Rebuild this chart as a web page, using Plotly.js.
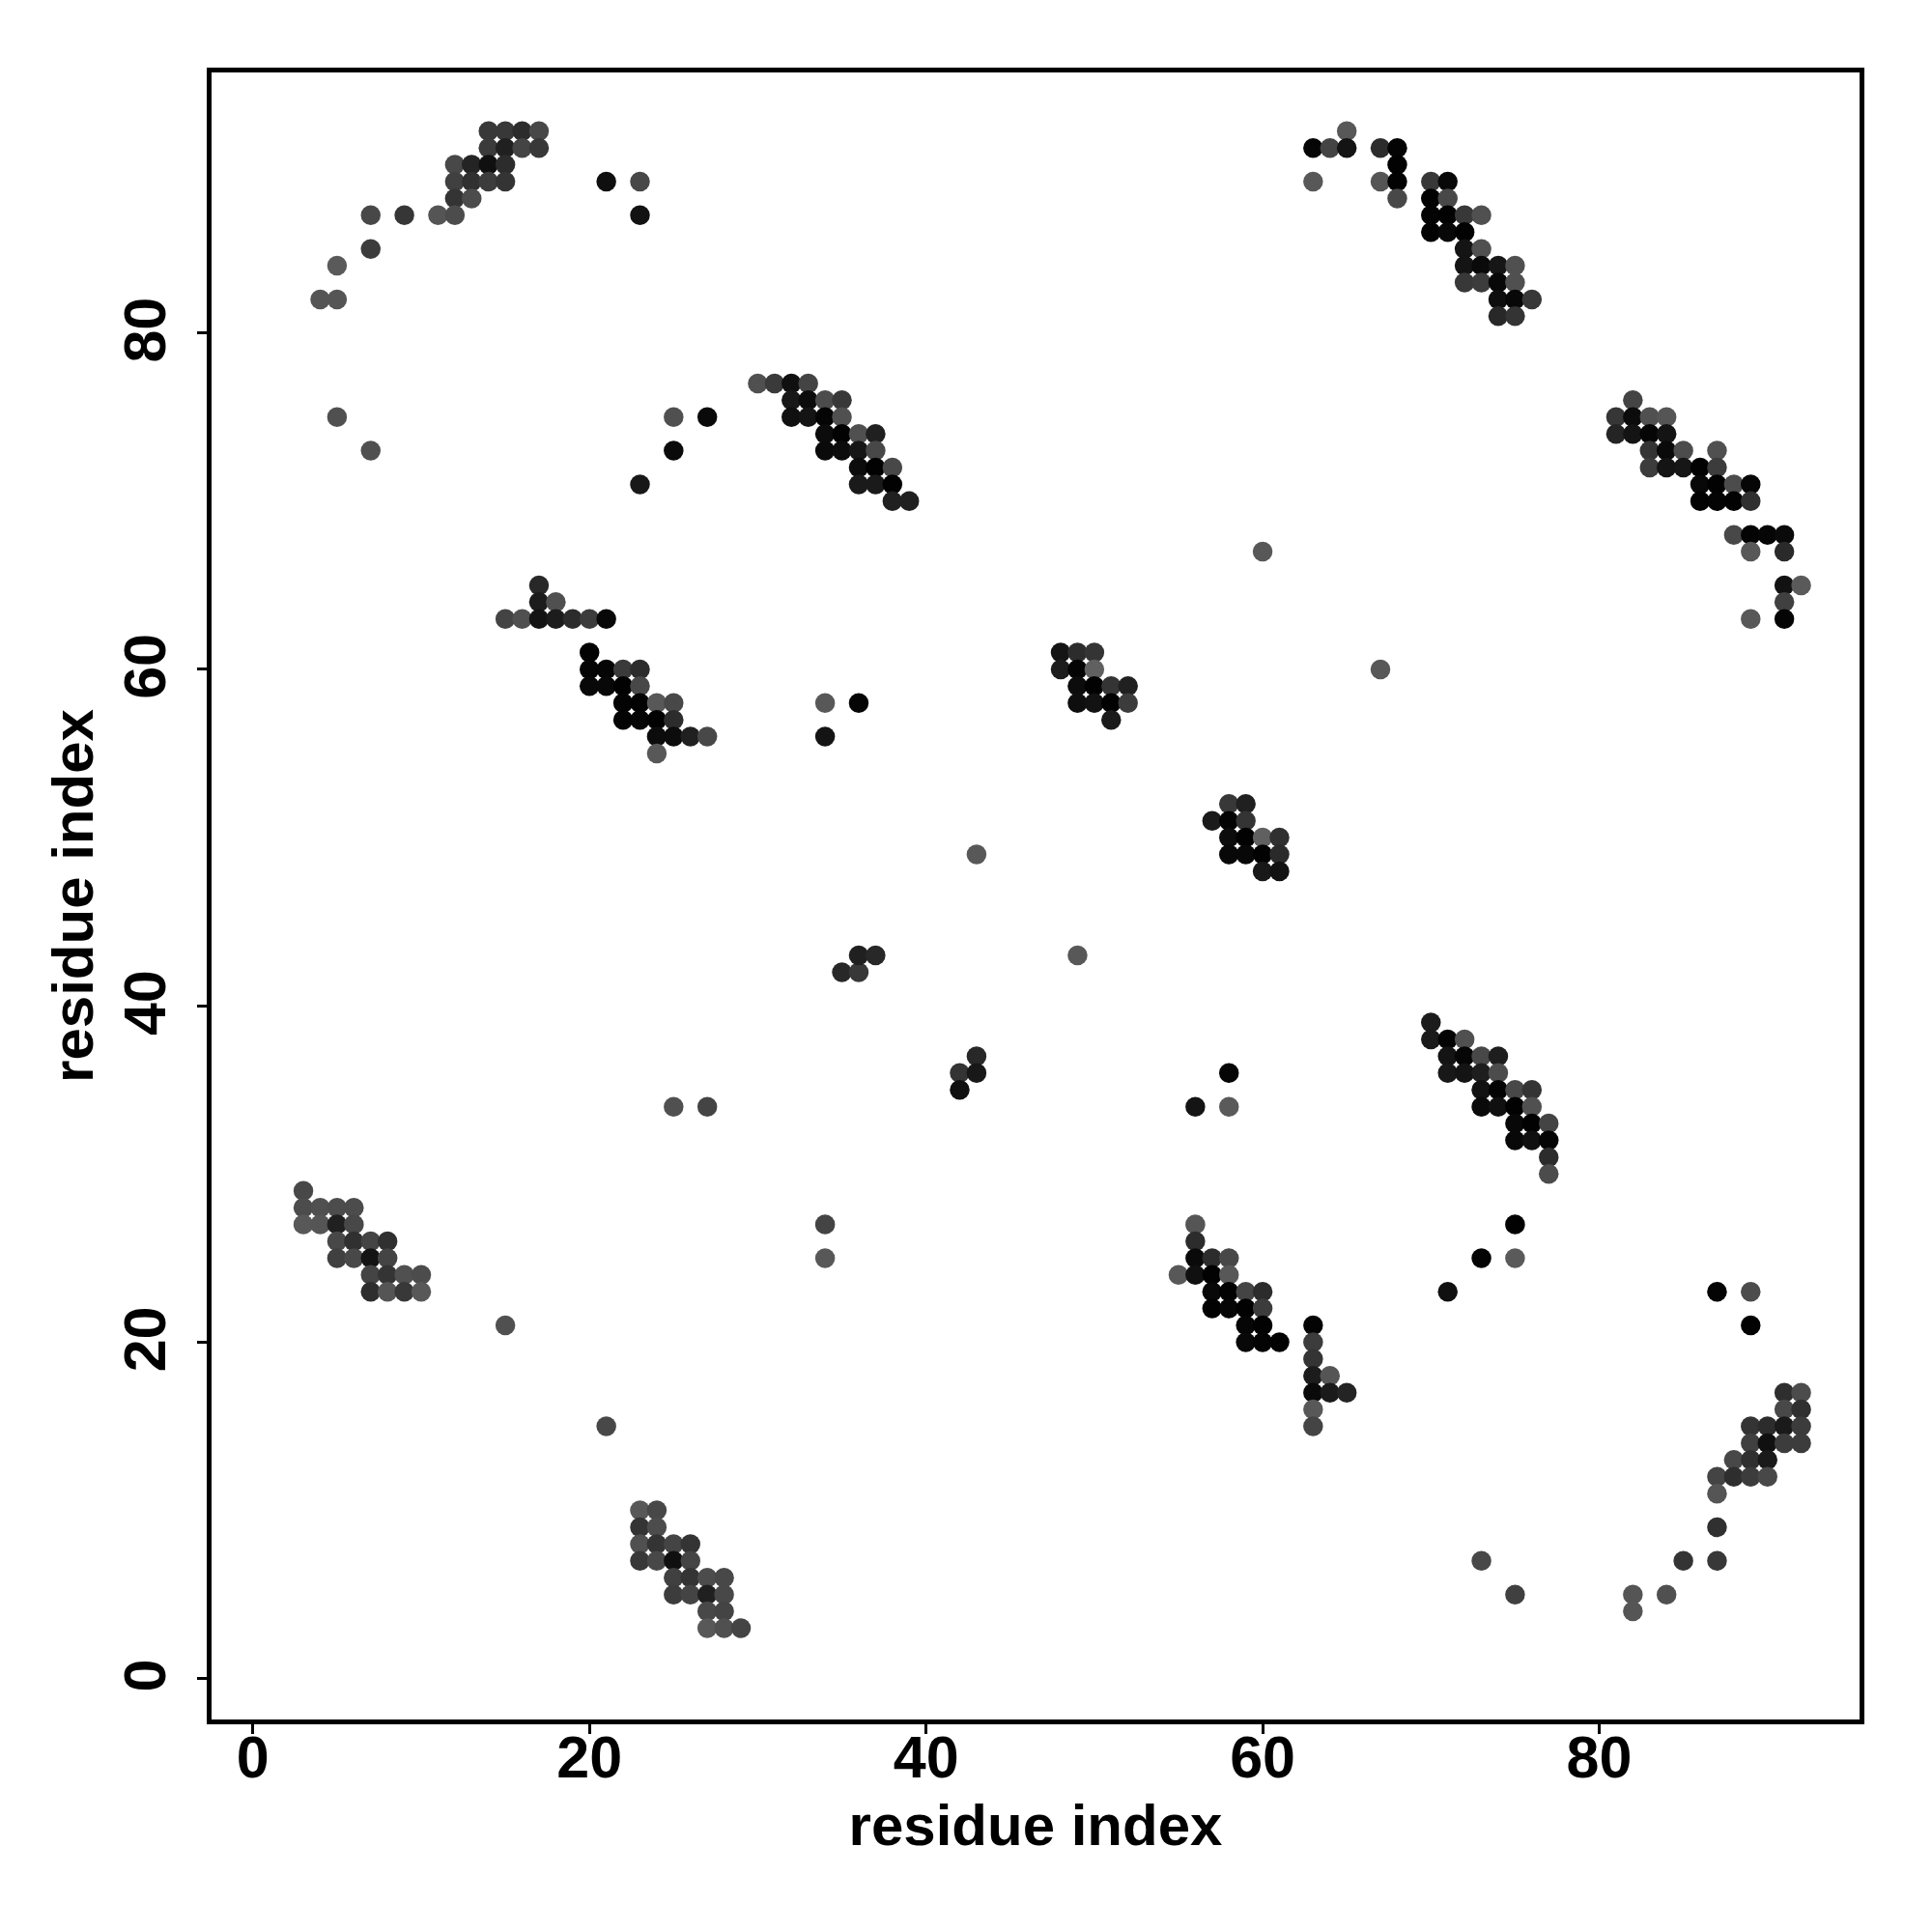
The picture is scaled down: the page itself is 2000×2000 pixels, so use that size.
<!DOCTYPE html>
<html>
<head>
<meta charset="utf-8">
<script src="https://cdn.plot.ly/plotly-3.0.1.min.js"></script>
<style>html,body{margin:0;padding:0;background:#fff}</style>
</head>
<body>
<div id="chart" style="width:2000px;height:2000px"></div>
<script>
const residueX = [
14,15,16,17, 14,15,16,17, 12,13,14,15, 12,13,14,15, 12,13, 7,9,11,12, 21,23, 23, 7, 5, 4,5, 5, 7, 23, 25, 27, 25,
30,31,32,33, 32,33,34,35, 32,33,34,35, 34,35,36,37, 34,35,36,37, 36,37,38, 36,37,38, 38,39,
17, 17,18, 15,16,17,18,19,20,21, 20, 20,21,22,23, 20,21,22,23, 22,23,24,25, 22,23,24,25, 24,25,26,27, 24,
65, 63,64,65,67,68, 68, 63,67,68, 68, 70,71, 70,71, 70,71,72,73, 70,71,72, 72,73, 72,73,74,75, 72,73,74,75, 74,75,76, 74,75,
82, 81,82,83,84, 81,82,83,84, 83,84,85,87, 83,84,85,86,87, 86,87,88,89, 86,87,88,89, 88,89,90,91, 89,91, 91,92, 91, 89,91,
60, 67, 34,36, 34, 43,
48,49,50, 48,49,50, 49,50,51,52, 49,50,51,52, 51,
58,59, 57,58,59, 58,59,60,61, 58,59,60,61, 60,61,
35,36, 36,37, 49, 42,43, 43, 42, 25,27, 56,58, 58,
70, 70,71,72, 71,72,73,74, 71,72,73,74, 73,74,75,76, 73,74,75,76, 75,76,77, 75,76,77, 77, 77,
56, 56, 56,57,58, 55,56,57,58, 57,58,59,60, 57,58,59,60, 59,60, 59,60,61,
63, 63, 63, 63,64, 63,64,65, 63, 63,
34, 34, 75, 73,75, 71, 87,89, 89, 15, 21,
3, 3,4,5,6, 3,4,5,6, 5,6,7,8, 5,6,7,8, 7,8,9,10, 7,8,9,10,
23,24, 23,24, 23,24,25,26, 23,24,25,26, 25,26,27,28, 25,26,27,28, 27,28, 27,28,29,
91,92, 91,92, 89,90,91,92, 89,90,91,92, 88,89,90, 87,88,89,90, 87,
87, 87, 85, 84, 82, 82, 73, 75
];
const residueY = [
92,92,92,92, 91,91,91,91, 90,90,90,90, 89,89,89,89, 88,88, 87,87,87,87, 89,89, 87, 85, 84, 82,82, 75, 73, 71, 73, 75, 75,
77,77,77,77, 76,76,76,76, 75,75,75,75, 74,74,74,74, 73,73,73,73, 72,72,72, 71,71,71, 70,70,
65, 64,64, 63,63,63,63,63,63,63, 61, 60,60,60,60, 59,59,59,59, 58,58,58,58, 57,57,57,57, 56,56,56,56, 55,
92, 91,91,91,91,91, 90, 89,89,89, 88, 89,89, 88,88, 87,87,87,87, 86,86,86, 85,85, 84,84,84,84, 83,83,83,83, 82,82,82, 81,81,
76, 75,75,75,75, 74,74,74,74, 73,73,73,73, 72,72,72,72,72, 71,71,71,71, 70,70,70,70, 68,68,68,68, 67,67, 65,65, 64, 63,63,
67, 60, 58,58, 56, 49,
61,61,61, 60,60,60, 59,59,59,59, 58,58,58,58, 57,
52,52, 51,51,51, 50,50,50,50, 49,49,49,49, 48,48,
42,42, 43,43, 43, 36,37, 36, 35, 34,34, 34,34, 36,
39, 38,38,38, 37,37,37,37, 36,36,36,36, 35,35,35,35, 34,34,34,34, 33,33,33, 32,32,32, 31, 30,
27, 26, 25,25,25, 24,24,24,24, 23,23,23,23, 22,22,22,22, 21,21, 20,20,20,
21, 20, 19, 18,18, 17,17,17, 16, 15,
27, 25, 27, 25,25, 23, 23,23, 21, 21, 15,
29, 28,28,28,28, 27,27,27,27, 26,26,26,26, 25,25,25,25, 24,24,24,24, 23,23,23,23,
10,10, 9,9, 8,8,8,8, 7,7,7,7, 6,6,6,6, 5,5,5,5, 4,4, 3,3,3,
17,17, 16,16, 15,15,15,15, 14,14,14,14, 13,13,13, 12,12,12,12, 11,
9, 7, 7, 5, 5, 4, 7, 5
];
const grayLevel = [
0x38,0x38,0x2c,0x48, 0x3a,0x20,0x44,0x38, 0x48,0x24,0x10,0x2c, 0x40,0x30,0x3c,0x34, 0x34,0x4c, 0x48,0x36,0x55,0x4c, 0x0f,0x48, 0x12, 0x3c, 0x5a, 0x55,0x55, 0x50, 0x50, 0x18, 0x0a, 0x0a, 0x50,
0x50,0x3a,0x10,0x44, 0x18,0x0c,0x4c,0x38, 0x10,0x14,0x05,0x50, 0x0c,0x02,0x50,0x20, 0x0a,0x0c,0x16,0x48, 0x0c,0x02,0x48, 0x1a,0x1a,0x02, 0x20,0x20,
0x28, 0x1c,0x50, 0x44,0x50,0x14,0x1c,0x2c,0x3c,0x08, 0x02, 0x05,0x05,0x3a,0x2c, 0x08,0x08,0x02,0x48, 0x04,0x02,0x58,0x48, 0x04,0x06,0x02,0x2c, 0x0c,0x0c,0x20,0x48, 0x58,
0x58, 0x06,0x44,0x14,0x2c,0x04, 0x02, 0x58,0x55,0x02, 0x48, 0x38,0x08, 0x02,0x48, 0x04,0x02,0x38,0x50, 0x02,0x08,0x02, 0x14,0x50, 0x14,0x0a,0x16,0x50, 0x38,0x3c,0x08,0x50, 0x0e,0x08,0x38, 0x28,0x34,
0x44, 0x36,0x0c,0x50,0x55, 0x24,0x14,0x06,0x14, 0x34,0x0a,0x4c,0x50, 0x3c,0x14,0x16,0x02,0x3c, 0x08,0x02,0x4c,0x06, 0x02,0x04,0x02,0x30, 0x48,0x04,0x06,0x0a, 0x58,0x2a, 0x12,0x5a, 0x40, 0x58,0x05,
0x58, 0x58, 0x58,0x05, 0x14, 0x58,
0x14,0x2c,0x34, 0x1c,0x04,0x60, 0x0c,0x02,0x34,0x20, 0x0e,0x12,0x02,0x3c, 0x1a,
0x38,0x20, 0x1a,0x04,0x34, 0x0c,0x02,0x60,0x30, 0x08,0x08,0x02,0x2a, 0x18,0x12,
0x28,0x38, 0x20,0x28, 0x58, 0x34,0x28, 0x18, 0x10, 0x50,0x44, 0x14,0x5a, 0x05,
0x1c, 0x1a,0x04,0x50, 0x14,0x06,0x48,0x1e, 0x18,0x14,0x1e,0x4c, 0x12,0x04,0x48,0x34, 0x0a,0x10,0x02,0x50, 0x08,0x02,0x44, 0x08,0x10,0x04, 0x2c, 0x4c,
0x55, 0x2c, 0x0a,0x2c,0x48, 0x58,0x10,0x02,0x58, 0x08,0x02,0x44,0x2c, 0x02,0x06,0x02,0x3c, 0x06,0x02, 0x08,0x04,0x02,
0x04, 0x3c, 0x34, 0x1c,0x55, 0x0a,0x1a,0x24, 0x58, 0x44,
0x44, 0x58, 0x02, 0x04,0x5a, 0x10, 0x04,0x4c, 0x02, 0x50, 0x48,
0x48, 0x4c,0x50,0x4c,0x4c, 0x58,0x55,0x20,0x48, 0x48,0x30,0x44,0x30, 0x40,0x48,0x14,0x44, 0x44,0x34,0x50,0x4c, 0x2e,0x55,0x38,0x58,
0x58,0x48, 0x34,0x4c, 0x50,0x34,0x44,0x34, 0x38,0x48,0x10,0x44, 0x40,0x34,0x4c,0x48, 0x3c,0x44,0x20,0x48, 0x48,0x44, 0x58,0x50,0x44,
0x2e,0x4c, 0x48,0x30, 0x34,0x2c,0x1a,0x3c, 0x40,0x10,0x3c,0x3c, 0x48,0x30,0x1a, 0x44,0x2e,0x3c,0x48, 0x55,
0x30, 0x38, 0x34, 0x50, 0x55, 0x55, 0x48, 0x40
];
const tickValues = [0, 20, 40, 60, 80];
const axisTitle = "residue index";

const fontFamily = '"Liberation Sans", Arial, sans-serif';
const markerColors = grayLevel.map(g => `rgb(${g},${g},${g})`);
const axisBase = {
  tickmode: 'array', tickvals: tickValues, ticktext: tickValues.map(String),
  ticks: 'outside', ticklen: 10, tickwidth: 3, tickcolor: '#000',
  showgrid: false, zeroline: false, showline: true, mirror: true,
  linecolor: '#000', linewidth: 5,
  tickfont: {family: fontFamily, size: 61, color: '#000', weight: 'bold'}
};
Plotly.newPlot('chart', [{
  type: 'scatter', mode: 'markers', x: residueX, y: residueY,
  marker: {size: 20.5, color: markerColors, line: {width: 0}},
  hoverinfo: 'x+y', showlegend: false
}], {
  width: 2000, height: 2000, paper_bgcolor: '#fff', plot_bgcolor: '#fff',
  margin: {l: 219, r: 75, t: 75, b: 220, pad: 0},
  xaxis: Object.assign({}, axisBase, {
    range: [-2.457, 95.47], ticklabelstandoff: -28,
    title: {text: axisTitle, standoff: 17, font: {family: fontFamily, size: 60, color: '#000', weight: 'bold'}}
  }),
  yaxis: Object.assign({}, axisBase, {
    range: [-2.43, 95.49], tickangle: -90, ticklabelstandoff: 9,
    ticktext: tickValues.map(v => v + '\u2009'),
    title: {text: axisTitle, standoff: 1, font: {family: fontFamily, size: 60, color: '#000', weight: 'bold'}}
  })
}, {displayModeBar: false, responsive: false});
</script>
</body>
</html>
